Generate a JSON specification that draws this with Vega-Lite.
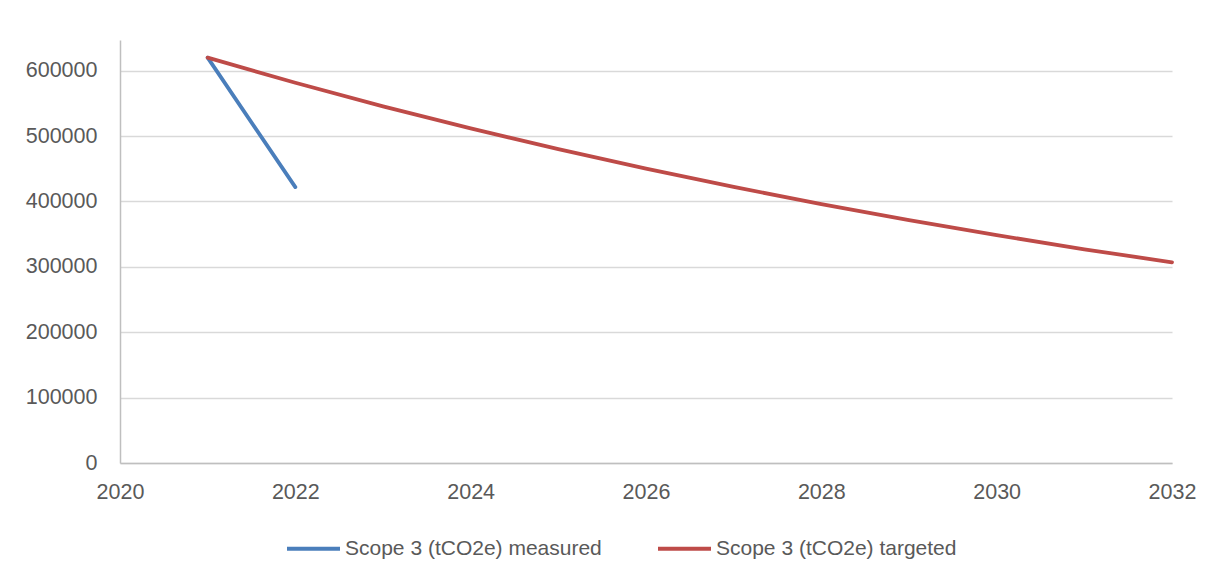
{
  "$schema": "https://vega.github.io/schema/vega-lite/v6.json",
  "width": 1052,
  "height": 423,
  "autosize": "none",
  "padding": {"left": 120, "top": 40, "right": 51, "bottom": 116},
  "background": "white",
  "config": {"font": "Liberation Sans", "view": {"stroke": null}},
  "data": {
    "values": [
      {"year": 2021, "value": 620000, "series": "Scope 3 (tCO2e) measured"},
      {"year": 2022, "value": 422000, "series": "Scope 3 (tCO2e) measured"},
      {"year": 2021, "value": 620000, "series": "Scope 3 (tCO2e) targeted"},
      {"year": 2022, "value": 581600, "series": "Scope 3 (tCO2e) targeted"},
      {"year": 2023, "value": 545500, "series": "Scope 3 (tCO2e) targeted"},
      {"year": 2024, "value": 511700, "series": "Scope 3 (tCO2e) targeted"},
      {"year": 2025, "value": 480000, "series": "Scope 3 (tCO2e) targeted"},
      {"year": 2026, "value": 450200, "series": "Scope 3 (tCO2e) targeted"},
      {"year": 2027, "value": 422300, "series": "Scope 3 (tCO2e) targeted"},
      {"year": 2028, "value": 396100, "series": "Scope 3 (tCO2e) targeted"},
      {"year": 2029, "value": 371600, "series": "Scope 3 (tCO2e) targeted"},
      {"year": 2030, "value": 348500, "series": "Scope 3 (tCO2e) targeted"},
      {"year": 2031, "value": 326900, "series": "Scope 3 (tCO2e) targeted"},
      {"year": 2032, "value": 307000, "series": "Scope 3 (tCO2e) targeted"}
    ]
  },
  "mark": {"type": "line", "strokeWidth": 3.8, "strokeCap": "round", "strokeJoin": "round"},
  "encoding": {
    "x": {
      "field": "year",
      "type": "quantitative",
      "scale": {"domain": [2020, 2032], "nice": false, "zero": false},
      "axis": {
        "title": null,
        "values": [2020, 2022, 2024, 2026, 2028, 2030, 2032],
        "format": "d",
        "grid": false,
        "ticks": false,
        "labelFlush": false,
        "domainColor": "#BFBFBF",
        "domainWidth": 1.5,
        "labelFontSize": 21.5,
        "labelColor": "#595959",
        "labelPadding": 18
      }
    },
    "y": {
      "field": "value",
      "type": "quantitative",
      "scale": {"domain": [0, 647000], "nice": false},
      "axis": {
        "title": null,
        "values": [0, 100000, 200000, 300000, 400000, 500000, 600000],
        "format": "d",
        "ticks": false,
        "gridColor": "#D9D9D9",
        "gridWidth": 1.5,
        "domainColor": "#BFBFBF",
        "domainWidth": 1.5,
        "labelFontSize": 21.5,
        "labelColor": "#595959",
        "labelPadding": 23
      }
    },
    "color": {
      "field": "series",
      "type": "nominal",
      "scale": {
        "domain": ["Scope 3 (tCO2e) measured", "Scope 3 (tCO2e) targeted"],
        "range": ["#4A7EBB", "#BE4B48"]
      },
      "legend": {
        "title": null,
        "orient": "none",
        "legendX": 165,
        "legendY": 480,
        "direction": "horizontal",
        "symbolType": "stroke",
        "symbolSize": 2809,
        "symbolStrokeWidth": 3.8,
        "labelFontSize": 21,
        "labelColor": "#595959",
        "labelLimit": 400,
        "labelOffset": 3,
        "columnPadding": 48,
        "padding": 0
      }
    }
  }
}
